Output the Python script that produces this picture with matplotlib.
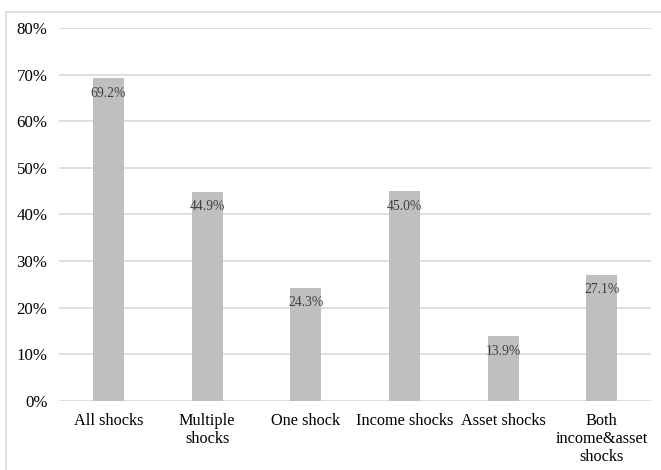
import matplotlib
matplotlib.use("Agg")
import matplotlib.pyplot as plt
from matplotlib.patches import Rectangle

categories = ["All shocks", "Multiple\nshocks", "One shock", "Income shocks",
              "Asset shocks", "Both\nincome&asset\nshocks"]
values = [69.2, 44.9, 24.3, 45.0, 13.9, 27.1]
labels = ["69.2%", "44.9%", "24.3%", "45.0%", "13.9%", "27.1%"]
yticks = [0, 10, 20, 30, 40, 50, 60, 70, 80]
yticklabels = ["0%", "10%", "20%", "30%", "40%", "50%", "60%", "70%", "80%"]

plt.rcParams['font.family'] = ['Liberation Serif', 'DejaVu Serif']

W, H = 661, 470
fig = plt.figure(figsize=(W / 100, H / 100), dpi=100)
ax = fig.add_axes([59.2 / W, 1 - 401 / H, (651 - 59.2) / W, (401 - 28) / H])

x = list(range(len(categories)))
ax.bar(x, values, width=31 / 98.6, color="#BFBFBF", zorder=2)
for xi, v, lab in zip(x, values, labels):
    ax.annotate(lab, (xi, v), xytext=(0, -15), textcoords="offset pixels",
                ha="center", va="center", fontsize=9.8, color="#404040", zorder=3)

ax.set_xlim(-0.5, len(categories) - 0.5)
ax.set_ylim(0, 80)
ax.set_yticks(yticks)
ax.set_yticklabels(yticklabels, fontsize=12.2)
ax.set_xticks(x)
ax.set_xticklabels(categories, fontsize=11.7, linespacing=1.18, va="top")
ax.tick_params(axis="both", length=0, colors="#000000")
ax.tick_params(axis="y", pad=8.5)
ax.tick_params(axis="x", pad=8.5)
ax.yaxis.grid(True, color="#D9D9D9", linewidth=1.2, zorder=0)
ax.set_axisbelow(True)
for s in ax.spines.values():
    s.set_visible(False)

fig.patches.append(Rectangle((6 / W, -0.05), 1.1, 1 - 12 / H + 0.05,
                             transform=fig.transFigure, fill=False,
                             edgecolor="#D9D9D9", linewidth=1.2, zorder=-1))

fig.savefig("out.png", dpi=100)
